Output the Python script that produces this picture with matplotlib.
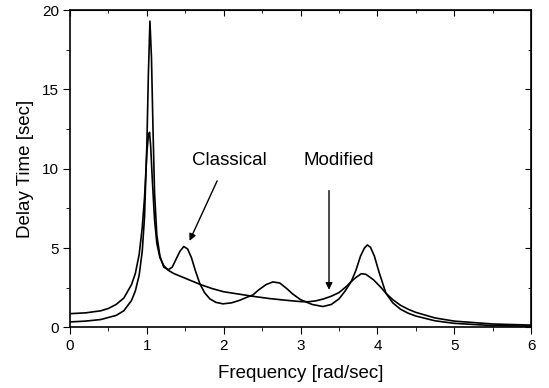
import matplotlib
matplotlib.use("Agg")
import matplotlib.pyplot as plt
from matplotlib.ticker import MultipleLocator, NullFormatter

plt.rcParams["font.family"] = ["Liberation Sans", "DejaVu Sans"]

# values
classical_x = [0, 0.2, 0.4, 0.6, 0.7, 0.8, 0.85, 0.9, 0.94, 0.97, 1.0, 1.02, 1.04,
               1.06, 1.08, 1.1, 1.13, 1.17, 1.22, 1.28, 1.33, 1.38, 1.43, 1.48, 1.53,
               1.58, 1.63, 1.69, 1.75, 1.82, 1.9, 1.99, 2.1, 2.2, 2.3, 2.38, 2.45,
               2.55, 2.64, 2.73, 2.82, 2.9, 3.0, 3.06, 3.15, 3.29, 3.4, 3.5, 3.58,
               3.66, 3.72, 3.78, 3.83, 3.87, 3.91, 3.96, 4.02, 4.11, 4.2, 4.3, 4.4,
               4.5, 4.75, 5.0, 5.5, 6.0]
classical_y = [0.35, 0.4, 0.5, 0.76, 1.05, 1.7, 2.3, 3.3, 4.8, 7.0, 11.5, 16.0, 19.3,
               17.0, 12.5, 8.5, 5.8, 4.5, 3.8, 3.64, 3.8, 4.3, 4.8, 5.1, 4.95,
               4.4, 3.6, 2.75, 2.2, 1.8, 1.58, 1.49, 1.55, 1.7, 1.9, 2.05, 2.35,
               2.7, 2.87, 2.8, 2.45, 2.1, 1.75, 1.63, 1.45, 1.32, 1.45, 1.8, 2.3,
               2.9, 3.6, 4.5, 5.0, 5.2, 5.05, 4.5, 3.5, 2.16, 1.55, 1.15, 0.9,
               0.72, 0.42, 0.26, 0.12, 0.08]

modified_x = [0, 0.2, 0.4, 0.5, 0.6, 0.7, 0.8, 0.85, 0.9, 0.94, 0.97, 1.0, 1.02,
              1.035, 1.05, 1.07, 1.1, 1.13, 1.17, 1.22, 1.28, 1.35, 1.45, 1.55, 1.7,
              1.85, 2.0, 2.2, 2.4, 2.6, 2.8, 3.0, 3.1, 3.2, 3.3, 3.4, 3.5, 3.6,
              3.66, 3.72, 3.79, 3.85, 3.95, 4.05, 4.11, 4.2, 4.3, 4.4, 4.5, 4.75,
              5.0, 5.5, 6.0]
modified_y = [0.87, 0.92, 1.05, 1.2, 1.45, 1.85, 2.7, 3.4, 4.6, 6.3, 8.2, 11.0, 12.1,
              12.3, 11.4, 9.4, 6.8, 5.3, 4.4, 3.9, 3.6, 3.4, 3.2, 3.0, 2.7,
              2.45, 2.25, 2.1, 1.95, 1.82, 1.72, 1.63, 1.62, 1.68, 1.8, 1.97, 2.2, 2.6,
              2.9, 3.15, 3.39, 3.35, 3.0, 2.5, 2.16, 1.75, 1.4, 1.15, 0.95, 0.6,
              0.4, 0.22, 0.15]

fig = plt.figure(figsize=(5.49, 3.88), dpi=100)
ax = fig.add_axes([0.1275, 0.156, 0.84, 0.818])

ax.plot(modified_x, modified_y, color="black", lw=1.2)
ax.plot(classical_x, classical_y, color="black", lw=1.2)

ax.set_xlim(0, 6)
ax.set_ylim(0, 20)
ax.xaxis.set_major_locator(MultipleLocator(1))
ax.xaxis.set_minor_locator(MultipleLocator(0.5))
ax.yaxis.set_major_locator(MultipleLocator(5))
ax.yaxis.set_minor_locator(MultipleLocator(2.5))
# left/bottom ticks point out, top/right point in
ax.tick_params(which="both", direction="out", labelsize=11, pad=3)
ax.tick_params(which="major", length=5)
ax.tick_params(which="minor", length=3)
for s in ax.spines.values():
    s.set_linewidth(1.2)

top = ax.secondary_xaxis("top")
top.xaxis.set_major_locator(MultipleLocator(1))
top.xaxis.set_minor_locator(MultipleLocator(0.5))
top.xaxis.set_major_formatter(NullFormatter())
right = ax.secondary_yaxis("right")
right.yaxis.set_major_locator(MultipleLocator(5))
right.yaxis.set_minor_locator(MultipleLocator(2.5))
right.yaxis.set_major_formatter(NullFormatter())
for sec in (top, right):
    sec.tick_params(which="both", direction="in")
    sec.tick_params(which="major", length=4)
    sec.tick_params(which="minor", length=2.5)

ax.set_xlabel("Frequency [rad/sec]", fontsize=13.5, labelpad=9)
ax.set_ylabel("Delay Time [sec]", fontsize=13.5, labelpad=6)

ax.text(2.08, 10.5, "Classical", fontsize=13.5, ha="center", va="center")
ax.text(3.5, 10.5, "Modified", fontsize=13.5, ha="center", va="center")
ax.annotate("", xy=(1.54, 5.3), xytext=(1.93, 9.4),
            arrowprops=dict(arrowstyle="-|>", color="black", lw=1, mutation_scale=10))
ax.annotate("", xy=(3.37, 2.2), xytext=(3.37, 8.8),
            arrowprops=dict(arrowstyle="-|>", color="black", lw=1, mutation_scale=10))

fig.savefig("out.png", dpi=100)
